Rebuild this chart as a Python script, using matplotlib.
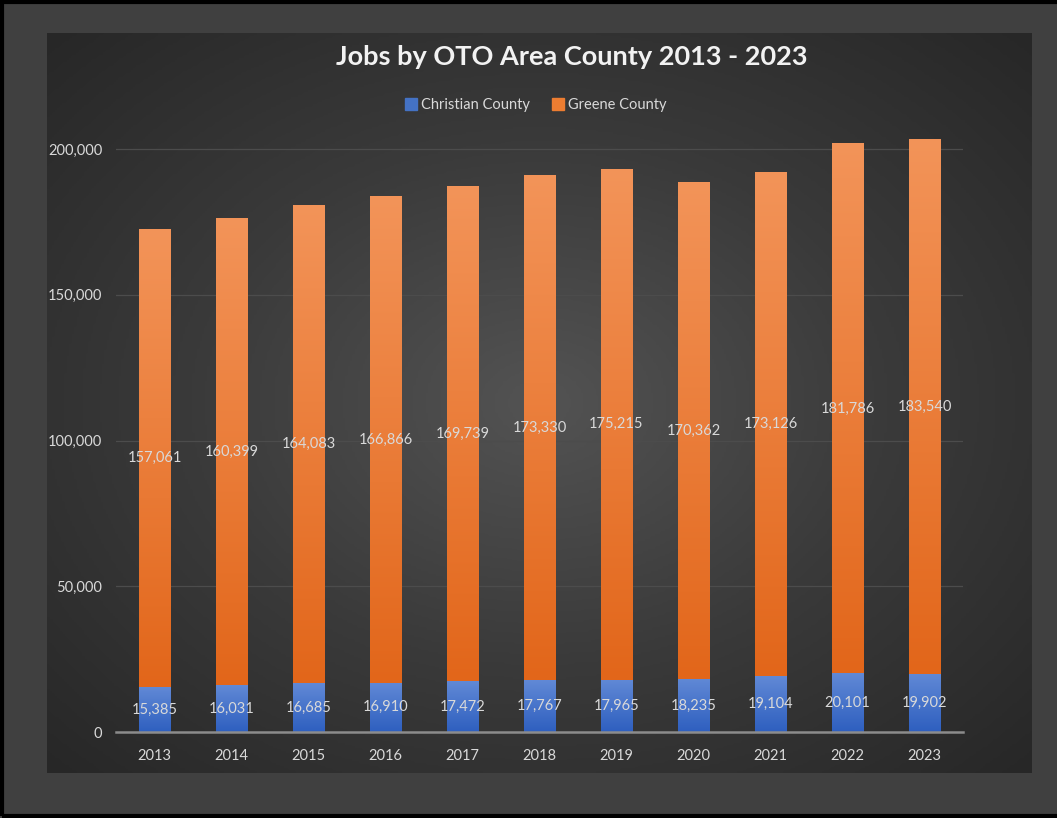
import numpy as np
import matplotlib
matplotlib.use('Agg')
import matplotlib.pyplot as plt
from matplotlib.patches import Rectangle
from matplotlib.colors import LinearSegmentedColormap

plt.rcParams['font.family'] = ['Lato', 'DejaVu Sans']

years = ['2013', '2014', '2015', '2016', '2017', '2018', '2019', '2020', '2021', '2022', '2023']
christian = [15385, 16031, 16685, 16910, 17472, 17767, 17965, 18235, 19104, 20101, 19902]
greene = [157061, 160399, 164083, 166866, 169739, 173330, 175215, 170362, 173126, 181786, 183540]
y_ticks = [0, 50000, 100000, 150000, 200000]

fig = plt.figure(figsize=(10.57, 8.18), dpi=100)
fig.patch.set_facecolor('#404040')

# outer black frame (open on the right, as in the screenshot)
fig.patches.append(Rectangle((0.002, 0.003), 1.05, 0.995, transform=fig.transFigure,
                             fill=False, edgecolor='black', linewidth=3))

# inner chart area with radial gradient
W, H = 1057, 818
bg = fig.add_axes([47 / W, 1 - 773 / H, (1032 - 47) / W, (773 - 33) / H])
yy, xx = np.mgrid[-1:1:300j, -1:1:400j]
r = np.sqrt(xx ** 2 + yy ** 2) / np.sqrt(2)
bg_cmap = LinearSegmentedColormap.from_list('bg', ['#535353', '#3a3a3a', '#272727'])
bg.imshow(r, cmap=bg_cmap, aspect='auto', extent=[0, 1, 0, 1])
bg.set_axis_off()

ax = fig.add_axes([116 / W, 1 - 732 / H, (963 - 116) / W, (732 - 120) / H])
ax.set_facecolor('none')
x = np.arange(len(years))
width = 0.41

ymax = 200000 * (732 - 120) / 583

for v in y_ticks[1:]:
    ax.axhline(v, color='#4c4c4c', linewidth=0.9, zorder=0)

b1 = ax.bar(x, christian, width, color='#4472c4', label='Christian County', zorder=2)
b2 = ax.bar(x, greene, width, bottom=christian, color='#ed7d31', label='Greene County', zorder=2)

# vertical gradient fill inside each bar
blue_cmap = LinearSegmentedColormap.from_list('blue', ['#2e5fbf', '#6189d6'])
orange_cmap = LinearSegmentedColormap.from_list('orange', ['#e2661a', '#f39459'])
grad = np.linspace(0, 1, 256).reshape(-1, 1)
for bars, cm in [(b1, blue_cmap), (b2, orange_cmap)]:
    for p in bars:
        x0, y0 = p.get_x(), p.get_y()
        w, h = p.get_width(), p.get_height()
        im = ax.imshow(grad, cmap=cm, aspect='auto', origin='lower',
                       extent=[x0, x0 + w, y0, y0 + h], zorder=3)
        im.set_clip_path(p)
        p.set_facecolor('none')

ax.set_xlim(-0.5, len(years) - 0.5)
ax.set_ylim(0, ymax)

for i in range(len(years)):
    ax.text(x[i], christian[i] / 2, f'{christian[i]:,}', ha='center', va='center',
            color='#d9d9d9', fontsize=10.5, zorder=5)
    ax.text(x[i], christian[i] + greene[i] / 2, f'{greene[i]:,}', ha='center', va='center',
            color='#d9d9d9', fontsize=10.5, zorder=5)

ax.set_xticks(x)
ax.set_xticklabels(years)
ax.set_yticks(y_ticks)
ax.set_yticklabels([f'{v:,}' for v in y_ticks])
ax.tick_params(axis='both', length=0, colors='#d9d9d9', labelsize=10.5)
ax.tick_params(axis='x', pad=12)
ax.tick_params(axis='y', pad=10)
for s in ['top', 'right', 'left']:
    ax.spines[s].set_visible(False)
ax.spines['bottom'].set_color('#8c8c8c')
ax.spines['bottom'].set_linewidth(1.8)
ax.spines['bottom'].set_zorder(6)

fig.text(572 / W, 1 - 57 / H, 'Jobs by OTO Area County 2013 - 2023', ha='center', va='center',
         color='#f2f2f2', fontsize=19.5, fontweight='bold')

handles = [Rectangle((0, 0), 1, 1, color='#4472c4'), Rectangle((0, 0), 1, 1, color='#ed7d31')]
fig.legend(handles, ['Christian County', 'Greene County'], loc='center',
           bbox_to_anchor=(536 / W, 1 - 105 / H), ncol=2, frameon=False,
           fontsize=10.5, labelcolor='#d9d9d9', handlelength=0.8, handleheight=0.8,
           handletextpad=0.3, columnspacing=1.5)

plt.savefig('out.png', dpi=100)
